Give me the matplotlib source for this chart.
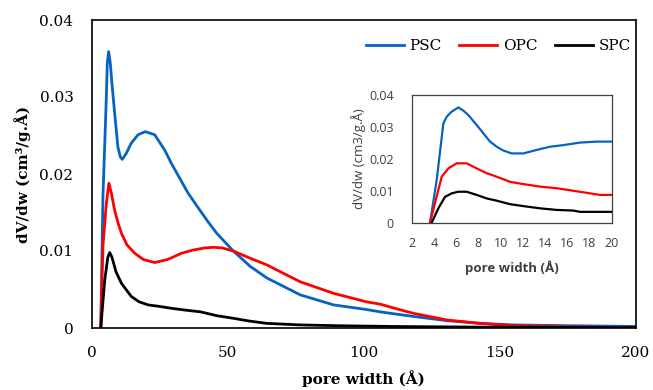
import matplotlib
matplotlib.use("Agg")
import matplotlib.pyplot as plt

# ---- main chart data ----
psc_x = [3.4, 4.2, 5.45, 5.8, 6.3, 6.9, 7.5, 8.5, 9.7, 10.6, 11.3, 12.8, 14.6, 17.1, 19.8,
         23.2, 26.9, 29.3, 35.5, 40.0, 42.8, 46.0, 52.1, 58.3, 64.4, 76.7, 88.9, 101, 106,
         112, 118.3, 130.6, 142.8, 155, 175, 200]
psc_y = [0.0, 0.017, 0.030, 0.0344, 0.0359, 0.0344, 0.0318, 0.0279, 0.0235, 0.0222, 0.0219,
         0.0227, 0.0240, 0.0251, 0.0255, 0.0251, 0.0231, 0.0214, 0.0175, 0.0152, 0.0138,
         0.0123, 0.0100, 0.0080, 0.0065, 0.0043, 0.0030, 0.0024, 0.0021, 0.0018, 0.0015,
         0.00095, 0.0006, 0.0004, 0.0003, 0.0002]

opc_x = [3.4, 4.2, 5.45, 6.4, 7.3, 8.5, 9.7, 11.0, 13.0, 15.9, 19.0, 23.2, 28.0, 33.0, 37.0,
         41.6, 44.8, 48.0, 52.1, 58.0, 64.4, 70.5, 76.7, 88.9, 101, 106, 112, 118.3, 130.6,
         142.8, 155, 170, 185, 200]
opc_y = [0.0, 0.0106, 0.0162, 0.0188, 0.0175, 0.0153, 0.0137, 0.0123, 0.0108, 0.0097, 0.0089,
         0.0085, 0.0089, 0.0097, 0.0101, 0.0104, 0.01048, 0.0104, 0.0100, 0.0091, 0.0082,
         0.0071, 0.0060, 0.0045, 0.0034, 0.0031, 0.0025, 0.0019, 0.00104, 0.0006, 0.0003,
         0.00018, 0.0001, 0.00005]

spc_x = [3.4, 4.85, 6.0, 6.7, 7.5, 9.0, 11.0, 14.6, 17.5, 20.8, 25.0, 29.3, 35.0, 40.0, 46.0,
         52.1, 58.0, 64.4, 76.7, 90, 110, 140, 170, 200]
spc_y = [0.0, 0.0062, 0.0092, 0.0098, 0.0092, 0.0073, 0.0058, 0.0041, 0.0034, 0.0030, 0.0028,
         0.00256, 0.0023, 0.0021, 0.0016, 0.00126, 0.0009, 0.0006, 0.0004, 0.0003, 0.0002,
         0.00012, 0.00008, 0.00005]

main_xticks = [0, 50, 100, 150, 200]
main_yticks = [0, 0.01, 0.02, 0.03, 0.04]
main_yticklabels = ["0", "0.01", "0.02", "0.03", "0.04"]

# ---- inset data ----
in_psc_x = [3.65, 4.25, 4.85, 5.15, 5.6, 6.2, 6.65, 7.1, 7.85, 8.45, 9.05, 9.65, 10.25, 11.0,
            12.05, 13.25, 14.45, 15.65, 17.15, 18.65, 20]
in_psc_y = [0.0, 0.0134, 0.0311, 0.0332, 0.0348, 0.0361, 0.0351, 0.0337, 0.0306, 0.0280,
            0.0254, 0.0238, 0.0226, 0.0217, 0.0217, 0.0228, 0.0238, 0.0243, 0.0251, 0.0254,
            0.0254]
in_opc_x = [3.65, 4.7, 5.3, 6.05, 6.95, 7.85, 8.75, 9.65, 10.85, 12.05, 13.55, 15.05, 16.55,
            18.05, 18.95, 20]
in_opc_y = [0.0, 0.0144, 0.0170, 0.0186, 0.0186, 0.0170, 0.0155, 0.0144, 0.0128, 0.0121,
            0.0113, 0.0108, 0.0100, 0.0092, 0.0087, 0.0087]
in_spc_x = [3.8, 4.4, 5.0, 5.6, 6.2, 6.95, 7.85, 8.75, 9.65, 10.85, 12.05, 13.55, 15.05, 16.55,
            17.15, 20]
in_spc_y = [0.0, 0.0045, 0.0081, 0.0092, 0.0097, 0.0097, 0.0087, 0.0076, 0.0069, 0.0058,
            0.0052, 0.0045, 0.0040, 0.0038, 0.0034, 0.0034]
in_xticks = [2, 4, 6, 8, 10, 12, 14, 16, 18, 20]
in_yticks = [0, 0.01, 0.02, 0.03, 0.04]
in_yticklabels = ["0", "0.01", "0.02", "0.03", "0.04"]

series_names = ["PSC", "OPC", "SPC"]
colors = ["#0563C1", "#FF0000", "#000000"]

serif = ["DejaVu Serif"]
sans = ["Open Sans", "DejaVu Sans"]

fig = plt.figure(figsize=(6.53, 3.90), dpi=100)
ax = fig.add_axes([91.5 / 653, 1 - 328 / 390, (636 - 91.5) / 653, (328 - 20) / 390])

for xs, ys, c, n in zip([psc_x, opc_x, spc_x], [psc_y, opc_y, spc_y], colors, series_names):
    ax.plot(xs, ys, color=c, lw=2.0, label=n, solid_joinstyle="round")

ax.set_xlim(0, 200)
ax.set_ylim(0, 0.04)
ax.set_xticks(main_xticks)
ax.set_xticklabels([str(t) for t in main_xticks], fontfamily=serif, fontsize=11)
ax.set_yticks(main_yticks)
ax.set_yticklabels(main_yticklabels, fontfamily=serif, fontsize=11)
ax.tick_params(axis="y", length=0, pad=13)
ax.tick_params(axis="x", length=0, pad=13)
for s in ax.spines.values():
    s.set_linewidth(1.2)
ax.set_xlabel("pore width (Å)", fontfamily=serif, fontsize=11, fontweight="bold", labelpad=7)
ax.set_ylabel("dV/dw (cm³/g.Å)", fontfamily=serif, fontsize=11, fontweight="bold", labelpad=6)

leg = ax.legend(ncol=3, frameon=False, loc="center left", bbox_to_anchor=(0.504, 0.916),
                prop={"family": serif, "size": 11}, handlelength=2.5, handletextpad=0.35,
                columnspacing=1.15, borderpad=0, borderaxespad=0)

# ---- inset ----
ins = fig.add_axes([411.7 / 653, 1 - 222.7 / 390, (611.7 - 411.7) / 653, (222.7 - 95) / 390])
for xs, ys, c in zip([in_psc_x, in_opc_x, in_spc_x], [in_psc_y, in_opc_y, in_spc_y], colors):
    ins.plot(xs, ys, color=c, lw=1.6)
ins.set_xlim(2, 20)
ins.set_ylim(0, 0.04)
ins.set_xticks(in_xticks)
ins.set_xticklabels([str(t) for t in in_xticks], fontfamily=sans, fontsize=9, color="#404040")
ins.set_yticks(in_yticks)
ins.set_yticklabels(in_yticklabels, fontfamily=sans, fontsize=9, color="#404040")
ins.tick_params(axis="y", length=0, pad=13)
ins.tick_params(axis="x", length=0, pad=10)
for s in ins.spines.values():
    s.set_linewidth(0.9)
    s.set_color("#404040")
ins.set_xlabel("pore width (Å)", fontfamily=sans, fontsize=9.5, fontweight="bold", color="#404040",
               labelpad=8)
ins.set_ylabel("dV/dw (cm3/g.Å)", fontfamily=sans, fontsize=9.5, color="#404040", labelpad=2)

fig.savefig("out.png", dpi=100)
